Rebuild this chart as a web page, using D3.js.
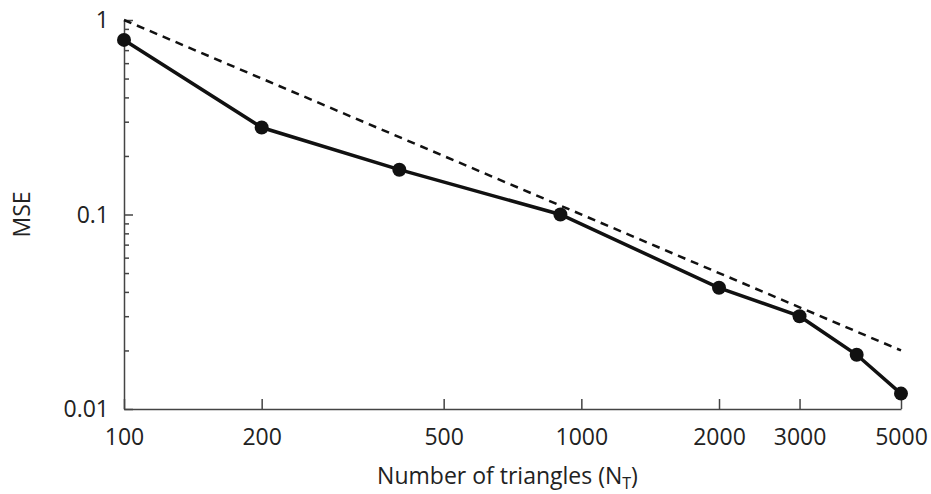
<!DOCTYPE html>
<meta charset="utf-8">
<style>
body { margin: 0; background: #fff; }
text { font-family: "Open Sans", sans-serif; fill: #222; }
.axis path, .axis line { stroke: #444; stroke-width: 1.5; fill: none; }
</style>
<body>
<script src="https://d3js.org/d3.v7.min.js"></script>
<script>
// measured MSE vs number of triangles
var triangles = [100, 200, 400, 900, 2000, 3000, 4000, 5000];
var mse = [0.79, 0.28, 0.17, 0.1, 0.042, 0.030, 0.019, 0.012];

// reference slope line (MSE ~ 1/N)
var refX = [100, 5000];
var refY = [1, 0.02];

var xTicks = [100, 200, 500, 1000, 2000, 3000, 5000];
var yTicks = [0.01, 0.1, 1];

var w = 931, h = 494;
var margin = {top: 20, right: 30, bottom: 85, left: 124};

var x = d3.scaleLog()
    .domain([100, 5000])
    .range([margin.left, w - margin.right]);

var y = d3.scaleLog()
    .domain([0.01, 1])
    .range([h - margin.bottom, margin.top]);

var svg = d3.select("body").append("svg")
    .attr("width", w)
    .attr("height", h);

// x axis, ticks pointing up
var xAxis = svg.append("g")
    .attr("class", "axis")
    .attr("transform", "translate(0," + y(0.01) + ")")
    .call(d3.axisBottom(x).tickValues(xTicks).tickSize(-10).tickSizeOuter(0).tickFormat(d3.format("d")));
xAxis.selectAll("text")
    .attr("y", 20)
    .style("font-size", "23px");

// y axis: minor ticks inside, labels left
var minor = [];
[0.01, 0.1].forEach(function(d) {
  for (var i = 2; i <= 9; i++) minor.push(d * i);
});

var yAxis = svg.append("g")
    .attr("class", "axis")
    .attr("transform", "translate(" + x(100) + ",0)")
    .call(d3.axisRight(y).tickValues(minor).tickSize(5).tickSizeOuter(0).tickFormat(""));

svg.append("g")
    .attr("class", "axis")
    .attr("transform", "translate(" + x(100) + ",0)")
    .call(d3.axisRight(y).tickValues(yTicks).tickSize(9).tickSizeOuter(0).tickFormat(""))
  .select(".domain").remove();

svg.append("g").selectAll("text")
    .data(yTicks)
  .enter().append("text")
    .attr("x", x(100) - 15)
    .attr("y", function(d) { return y(d); })
    .attr("dy", "0.35em")
    .attr("text-anchor", "end")
    .style("font-size", "23px")
    .text(function(d) { return d; });

// axis titles
var xt = svg.append("text")
    .attr("x", (x(100) + x(5000)) / 2 - 5)
    .attr("y", 484)
    .attr("text-anchor", "middle")
    .style("font-size", "23px");
xt.append("tspan").text("Number of triangles (N");
xt.append("tspan").attr("dy", 5).style("font-size", "16px").text("T");
xt.append("tspan").attr("dy", -5).text(")");

svg.append("text")
    .attr("transform", "translate(30," + y(0.1) + ") rotate(-90)")
    .attr("text-anchor", "middle")
    .style("font-size", "23px")
    .text("MSE");

// dashed reference line
svg.append("path")
    .datum(d3.zip(refX, refY))
    .attr("fill", "none")
    .attr("stroke", "#111")
    .attr("stroke-width", 2.5)
    .attr("stroke-dasharray", "8,6")
    .attr("d", d3.line().x(function(d) { return x(d[0]); }).y(function(d) { return y(d[1]); }));

// data line and markers
var pts = d3.zip(triangles, mse);
svg.append("path")
    .datum(pts)
    .attr("fill", "none")
    .attr("stroke", "#111")
    .attr("stroke-width", 3.5)
    .attr("d", d3.line().x(function(d) { return x(d[0]); }).y(function(d) { return y(d[1]); }));

svg.selectAll(".dot")
    .data(pts)
  .enter().append("circle")
    .attr("class", "dot")
    .attr("cx", function(d) { return x(d[0]); })
    .attr("cy", function(d) { return y(d[1]); })
    .attr("r", 7)
    .attr("fill", "#111");
</script>
